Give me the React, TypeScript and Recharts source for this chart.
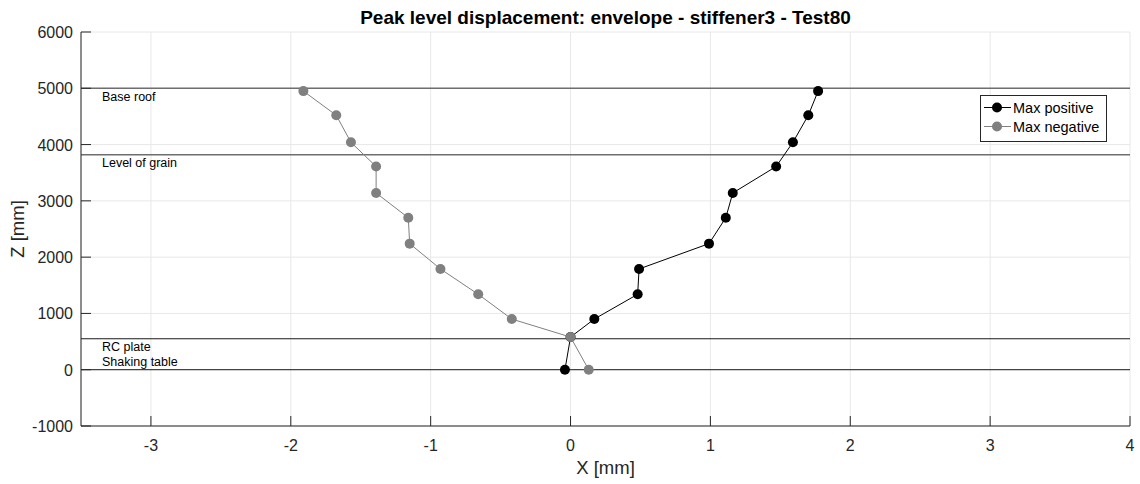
import { CartesianGrid, ReferenceLine, Scatter, ScatterChart, XAxis, YAxis } from "recharts";

// Z levels of the measuring points [mm]
const levels = [0, 580, 900, 1340, 1790, 2240, 2700, 3140, 3610, 4040, 4520, 4950];
// peak displacements [mm]
const maxPositive = [-0.04, 0.0, 0.17, 0.48, 0.49, 0.99, 1.11, 1.16, 1.47, 1.59, 1.7, 1.77];
const maxNegative = [0.13, 0.0, -0.42, -0.66, -0.93, -1.15, -1.16, -1.39, -1.39, -1.57, -1.675, -1.91];

const xTicks = [-3, -2, -1, 0, 1, 2, 3, 4];
const yTicks = [-1000, 0, 1000, 2000, 3000, 4000, 5000, 6000];

// structure levels drawn as horizontal lines
const levelNames = ["Base roof", "Level of grain", "RC plate", "Shaking table"];
const levelZ = [5000, 3820, 550, 0];

const posData = levels.map((z, i) => ({ x: maxPositive[i], z }));
const negData = levels.map((z, i) => ({ x: maxNegative[i], z }));

const FONT = "'Liberation Sans', Arial, Helvetica, sans-serif";
const AXIS = "#262626";
const BLACK = "#000000";
const GREY = "#808080";

const BottomTick = ({ x, y, payload }: any) => (
  <g>
    <line x1={x} y1={y} x2={x} y2={y - 10} stroke={AXIS} strokeWidth={1} />
    <text x={x} y={y + 25} textAnchor="middle" fill={AXIS} fontSize={16} fontFamily={FONT}>
      {payload.value}
    </text>
  </g>
);

const TopTick = ({ x, y }: any) => <line x1={x} y1={y} x2={x} y2={y + 10} stroke={AXIS} strokeWidth={1} />;

const LeftTick = ({ x, y, payload }: any) => (
  <g>
    <line x1={x} y1={y} x2={x + 10} y2={y} stroke={AXIS} strokeWidth={1} />
    <text x={x - 8} y={y + 6} textAnchor="end" fill={AXIS} fontSize={16} fontFamily={FONT}>
      {payload.value}
    </text>
  </g>
);

const RightTick = ({ x, y }: any) => <line x1={x} y1={y} x2={x - 10} y2={y} stroke={AXIS} strokeWidth={1} />;

const levelLabel = (text: string, dy: number) => (props: any) => {
  const vb = props.viewBox || {};
  return (
    <text x={vb.x + 21} y={vb.y + dy} fill="#000" fontSize={12.5} fontFamily={FONT}>
      {text}
    </text>
  );
};

const Dot = (color: string) => (p: any) => <circle cx={p.cx} cy={p.cy} r={5} fill={color} />;

const LegendRow = ({ color, label }: { color: string; label: string }) => (
  <div style={{ display: "flex", alignItems: "center", height: 19 }}>
    <svg width={30} height={19} style={{ display: "block" }}>
      <line x1={3} y1={9.5} x2={31} y2={9.5} stroke={color} strokeWidth={1} />
      <circle cx={16} cy={9.5} r={5} fill={color} />
    </svg>
    <span style={{ marginLeft: 2, fontSize: 14.5, color: "#000", whiteSpace: "nowrap" }}>{label}</span>
  </div>
);

export default function App() {
  return (
    <div style={{ position: "absolute", left: 0, top: 0, width: 1140, height: 484, background: "#fff", fontFamily: FONT }}>
      <div
        style={{
          position: "absolute",
          left: 81,
          width: 1049,
          top: 7,
          textAlign: "center",
          fontWeight: "bold",
          fontSize: 19,
          color: "#000",
          lineHeight: "normal",
        }}
      >
        Peak level displacement: envelope - stiffener3 - Test80
      </div>
      <ScatterChart width={1140} height={484} margin={{ top: 32, right: 10, bottom: 0, left: 10 }}>
        <CartesianGrid stroke="#e8e8e8" strokeWidth={1} />
        <XAxis
          type="number"
          dataKey="x"
          domain={[-3.5, 4]}
          ticks={xTicks}
          interval={0}
          height={58}
          tickSize={0}
          tickMargin={0}
          tickLine={false}
          tick={<BottomTick />}
          axisLine={{ stroke: AXIS, strokeWidth: 1 }}
          allowDataOverflow
          label={{ value: "X [mm]", position: "insideBottom", offset: 10, fill: AXIS, fontSize: 18.5, fontFamily: FONT }}
        />
        <XAxis
          xAxisId="top"
          orientation="top"
          type="number"
          domain={[-3.5, 4]}
          ticks={xTicks}
          interval={0}
          height={0}
          tickSize={0}
          tickMargin={0}
          tickLine={false}
          tick={<TopTick />}
          axisLine={{ stroke: AXIS, strokeWidth: 1 }}
          allowDataOverflow
        />
        <YAxis
          type="number"
          dataKey="z"
          domain={[-1000, 6000]}
          ticks={yTicks}
          interval={0}
          width={71}
          tickSize={0}
          tickMargin={0}
          tickLine={false}
          tick={<LeftTick />}
          axisLine={{ stroke: AXIS, strokeWidth: 1 }}
          allowDataOverflow
          label={(props: any) => {
            const vb = props.viewBox || {};
            const cx = 24;
            const cy = vb.y + vb.height / 2;
            return (
              <text
                x={cx}
                y={cy}
                transform={`rotate(-90 ${cx} ${cy})`}
                textAnchor="middle"
                fill={AXIS}
                fontSize={18.5}
                fontFamily={FONT}
              >
                Z [mm]
              </text>
            );
          }}
        />
        <YAxis
          yAxisId="right"
          orientation="right"
          type="number"
          domain={[-1000, 6000]}
          ticks={yTicks}
          interval={0}
          width={0}
          tickSize={0}
          tickMargin={0}
          tickLine={false}
          tick={<RightTick />}
          axisLine={{ stroke: AXIS, strokeWidth: 1 }}
          allowDataOverflow
        />
        <ReferenceLine y={levelZ[0]} stroke="#6e6e6e" strokeWidth={1.5} label={levelLabel(levelNames[0], 13)} />
        <ReferenceLine y={levelZ[1]} stroke="#6e6e6e" strokeWidth={1.5} label={levelLabel(levelNames[1], 12.5)} />
        <ReferenceLine y={levelZ[2]} stroke="#1a1a1a" strokeWidth={1} label={levelLabel(levelNames[2], 12.5)} />
        <ReferenceLine y={levelZ[3]} stroke="#1a1a1a" strokeWidth={1} label={levelLabel(levelNames[3], -3.5)} />
        <Scatter
          name="Max positive"
          data={posData}
          fill={BLACK}
          line={{ stroke: BLACK, strokeWidth: 1 }}
          shape={Dot(BLACK)}
          isAnimationActive={false}
        />
        <Scatter
          name="Max negative"
          data={negData}
          fill={GREY}
          line={{ stroke: GREY, strokeWidth: 1 }}
          shape={Dot(GREY)}
          isAnimationActive={false}
        />
      </ScatterChart>
      <div
        style={{
          position: "absolute",
          left: 980,
          top: 95,
          width: 125,
          height: 41,
          border: `1px solid ${AXIS}`,
          background: "#fff",
          padding: "2px 0",
          boxSizing: "content-box",
        }}
      >
        <LegendRow color={BLACK} label="Max positive" />
        <LegendRow color={GREY} label="Max negative" />
      </div>
    </div>
  );
}
